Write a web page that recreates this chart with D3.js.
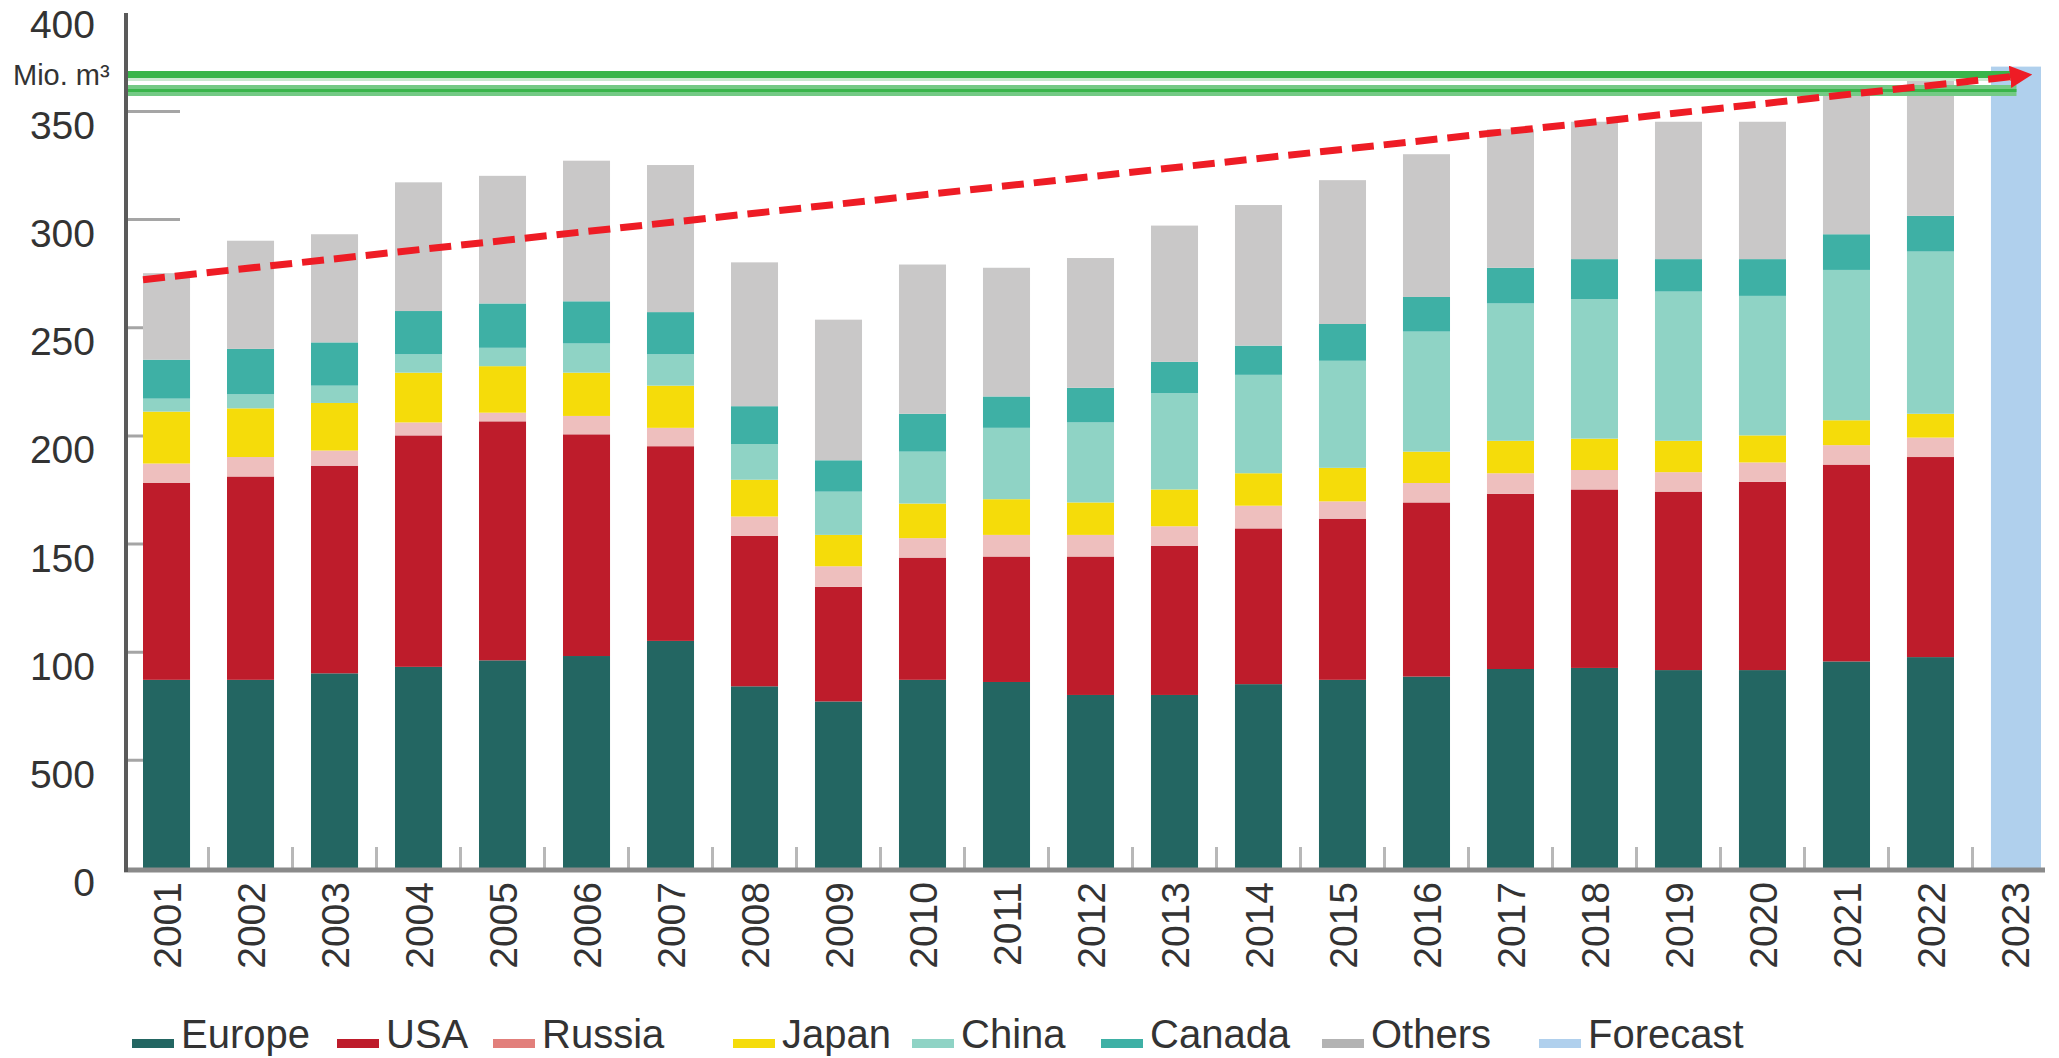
<!DOCTYPE html>
<html lang="en">
<head>
  <meta charset="UTF-8">
  <title>Timber production by region</title>
  <style>
    body { margin: 0; background: #fff; }
    svg { display: block; }
    text { font-family: "Liberation Sans", Arial, sans-serif; fill: #333; }
  </style>
</head>
<body>
  <svg id="chart" width="2059" height="1058"></svg>
  <script src="https://cdn.jsdelivr.net/npm/d3@7"></script>
  <script>
    // data (Mio. m3, stacked bottom to top)
    var years = ["2001","2002","2003","2004","2005","2006","2007","2008","2009","2010","2011",
                 "2012","2013","2014","2015","2016","2017","2018","2019","2020","2021","2022"];
    var forecastYear = "2023";
    var forecastValue = 370.5;

    var europe = [87, 87, 90, 93, 96, 98, 105, 84, 77, 87, 86, 80, 80, 85, 87, 88.5, 92, 92.5, 91.5, 91.5, 95.5, 97.5];
    var usa    = [91, 94, 96, 107, 110.5, 102.5, 90, 69.5, 53, 56.5, 58, 64, 69, 72, 74.5, 80.5, 81, 82.5, 82.5, 87, 91, 92.5];
    var russia = [9, 9, 7, 6, 4, 8.5, 8.5, 9, 9.5, 9, 10, 10, 9, 10.5, 8, 9, 9.5, 9, 9, 9, 9, 9];
    var japan  = [24, 22.5, 22, 23, 21.5, 20, 19.5, 17, 14.5, 16, 16.5, 15, 17, 15, 15.5, 14.5, 15, 14.5, 14.5, 12.5, 11.5, 11];
    var china  = [6, 6.5, 8, 8.5, 8.5, 13.5, 14.5, 16.5, 20, 24, 33, 37, 44.5, 45.5, 49.5, 55.5, 63.5, 64.5, 69, 64.5, 69.5, 75];
    var canada = [18, 21, 20, 20, 20.5, 19.5, 19.5, 17.5, 14.5, 17.5, 14.5, 16, 14.5, 13.5, 17, 16, 16.5, 18.5, 15, 17, 16.5, 16.5];
    var others = [40, 50, 50, 59.5, 59, 65, 68, 66.5, 65, 69, 59.5, 60, 63, 65, 66.5, 66, 64, 63.5, 63.5, 63.5, 65, 63.5];

    var seriesNames = ["Europe", "USA", "Russia", "Japan", "China", "Canada", "Others"];
    var seriesValues = [europe, usa, russia, japan, china, canada, others];
    var seriesColors = ["#236662", "#be1c2b", "#eebfbe", "#f5dc0a", "#8fd3c5", "#3eb0a5", "#c9c8c8"];
    var legendNames = ["Europe", "USA", "Russia", "Japan", "China", "Canada", "Others", "Forecast"];
    var legendColors = ["#236662", "#be1c2b", "#e27f7b", "#f5dc0a", "#8fd3c5", "#3eb0a5", "#b3b3b3", "#b0d0ed"];
    var forecastColor = "#b0d0ed";

    var yTicks = [0, 50, 100, 150, 200, 250, 300, 350, 400];
    var yTickLabels = ["0", "500", "100", "150", "200", "250", "300", "350", "400"];

    // trend arrow from 2001 to 2023, and the two green target lines
    var trendStart = 272, trendEnd = 366;
    var greenLevels = [366.8, 359.5];

    var svg = d3.select("#chart");
    var axisX = 126, baseY = 868;

    var allYears = years.concat([forecastYear]);
    var x = d3.scaleBand()
      .domain(allYears)
      .range([143, 2038])
      .paddingInner(0.44)
      .paddingOuter(0);

    var y = d3.scaleLinear()
      .domain([0, 400])
      .range([baseY, baseY - 865.2]);

    var rows = years.map(function(yr, i) {
      var r = { year: yr };
      seriesNames.forEach(function(name, k) { r[name] = seriesValues[k][i]; });
      return r;
    });
    var stacked = d3.stack().keys(seriesNames)(rows);

    // short grey ticks inside the plot
    svg.append("g")
      .attr("transform", "translate(" + (axisX + 2) + ",0)")
      .call(d3.axisRight(y).tickValues(yTicks.slice(1, -1)).tickSize(52).tickFormat(""))
      .call(function(g) {
        g.select(".domain").remove();
        g.selectAll("line").attr("stroke", "#a5a5a5").attr("stroke-width", 3);
      });

    // tick marks between bars on the x axis
    svg.append("g").selectAll("line")
      .data(allYears.slice(1))
      .enter().append("line")
      .attr("x1", function(d) { return x(d) - x.step() * x.paddingInner() / 2; })
      .attr("x2", function(d) { return x(d) - x.step() * x.paddingInner() / 2; })
      .attr("y1", baseY - 21)
      .attr("y2", baseY)
      .attr("stroke", "#b8b8b8")
      .attr("stroke-width", 3);

    // stacked bars
    var layers = svg.append("g").selectAll("g")
      .data(stacked)
      .enter().append("g")
      .attr("fill", function(d, i) { return seriesColors[i]; });

    layers.selectAll("rect")
      .data(function(d) { return d; })
      .enter().append("rect")
      .attr("x", function(d) { return x(d.data.year); })
      .attr("y", function(d) { return y(d[1]); })
      .attr("width", x.bandwidth())
      .attr("height", function(d) { return y(d[0]) - y(d[1]); });

    svg.append("rect")
      .attr("x", x(forecastYear))
      .attr("y", y(forecastValue))
      .attr("width", x.bandwidth() + 3)
      .attr("height", baseY - y(forecastValue))
      .attr("fill", forecastColor);

    // green lines
    var gx1 = axisX - 2, gx2 = x(forecastYear) + x.bandwidth() / 2;
    svg.append("line")
      .attr("x1", gx1).attr("x2", gx2)
      .attr("y1", y(greenLevels[0]) + 5).attr("y2", y(greenLevels[0]) + 5)
      .attr("stroke", "#cbe9d0").attr("stroke-width", 3);
    svg.append("line")
      .attr("x1", gx1).attr("x2", gx2 - 2)
      .attr("y1", y(greenLevels[0])).attr("y2", y(greenLevels[0]))
      .attr("stroke", "#39b54a").attr("stroke-width", 7);
    svg.append("line")
      .attr("x1", gx1).attr("x2", gx2 + 2)
      .attr("y1", y(greenLevels[1])).attr("y2", y(greenLevels[1]))
      .attr("stroke", "#74ca85").attr("stroke-width", 11);
    svg.append("line")
      .attr("x1", gx1).attr("x2", gx2 + 2)
      .attr("y1", y(greenLevels[1])).attr("y2", y(greenLevels[1]))
      .attr("stroke", "#39b54a").attr("stroke-width", 3);

    // red dashed trend with arrow head
    svg.append("defs").append("marker")
      .attr("id", "arrow")
      .attr("viewBox", "0 0 10 10")
      .attr("refX", 2).attr("refY", 5)
      .attr("markerWidth", 3.2).attr("markerHeight", 3.2)
      .attr("orient", "auto")
      .append("path")
      .attr("d", "M0,0 L10,5 L0,10 z")
      .attr("fill", "#ee1c25");

    svg.append("line")
      .attr("x1", x(years[0]))
      .attr("y1", y(trendStart))
      .attr("x2", x(forecastYear) + x.bandwidth() * 0.5)
      .attr("y2", y(trendEnd))
      .attr("stroke", "#ee1c25")
      .attr("stroke-width", 7)
      .attr("stroke-dasharray", "22,10")
      .attr("marker-end", "url(#arrow)");

    // axis lines
    svg.append("line")
      .attr("x1", axisX - 2).attr("x2", 2045)
      .attr("y1", baseY + 2).attr("y2", baseY + 2)
      .attr("stroke", "#8a8a8a").attr("stroke-width", 5);
    svg.append("line")
      .attr("x1", axisX).attr("x2", axisX)
      .attr("y1", 13).attr("y2", baseY + 4)
      .attr("stroke", "#5a5a5a").attr("stroke-width", 4);

    // y axis labels, sitting just under their ticks
    svg.append("g")
      .attr("transform", "translate(" + axisX + ",0)")
      .call(d3.axisLeft(y).tickValues(yTicks).tickSize(0).tickPadding(31)
        .tickFormat(function(d, i) { return yTickLabels[i]; }))
      .call(function(g) {
        g.select(".domain").remove();
        g.selectAll("text")
          .attr("y", function(d) { return d === 400 ? 22 : 15; })
          .style("font-size", "39px")
          .style("font-family", "'Liberation Sans', Arial, sans-serif")
          .attr("fill", "#333");
      });

    svg.append("text")
      .attr("x", 13)
      .attr("y", 85)
      .style("font-size", "29px")
      .text("Mio. m\u00b3");

    // x axis labels
    svg.append("g")
      .attr("transform", "translate(0," + baseY + ")")
      .call(d3.axisBottom(x).tickSize(0))
      .call(function(g) {
        g.select(".domain").remove();
        g.selectAll("text")
          .attr("transform", "rotate(-90)")
          .attr("x", -14)
          .attr("y", 0)
          .attr("dy", "0.36em")
          .attr("text-anchor", "end")
          .style("font-size", "39px")
          .style("font-family", "'Liberation Sans', Arial, sans-serif")
          .attr("fill", "#333");
      });

    // legend
    var legendX = [132, 337, 493, 733, 912, 1101, 1322, 1539];
    var legend = svg.append("g").selectAll("g")
      .data(legendNames)
      .enter().append("g")
      .attr("transform", function(d, i) { return "translate(" + legendX[i] + ",1048)"; });
    legend.append("rect")
      .attr("x", 0).attr("y", -9)
      .attr("width", 42).attr("height", 9)
      .attr("fill", function(d, i) { return legendColors[i]; });
    legend.append("text")
      .attr("x", 49)
      .attr("y", 0)
      .style("font-size", "40px")
      .text(function(d) { return d; });
  </script>
</body>
</html>
